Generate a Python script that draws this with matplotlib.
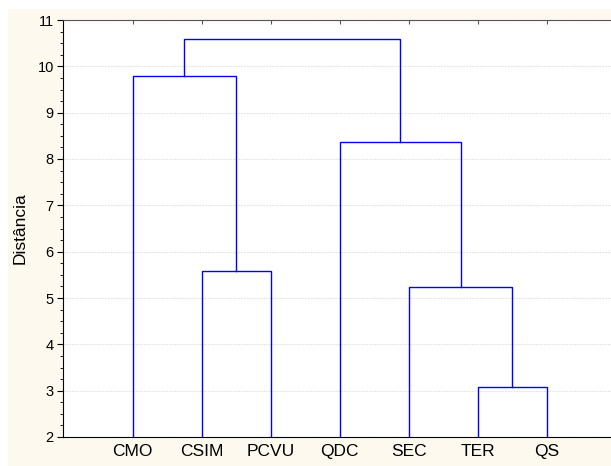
import matplotlib
matplotlib.use('Agg')
import matplotlib.pyplot as plt
from matplotlib.patches import Rectangle

plt.rcParams['font.family'] = ['Liberation Sans', 'DejaVu Sans']

# leaves in plotted order
labels = ['CMO', 'CSIM', 'PCVU', 'QDC', 'SEC', 'TER', 'QS']
# merges: (left node, right node, distance); new nodes numbered from len(labels)
merge_left = [5, 4, 1, 3, 0, 11]
merge_right = [6, 7, 2, 8, 9, 10]
merge_dist = [3.07, 5.24, 5.59, 8.37, 9.80, 10.60]

y_min, y_max = 2, 11

W, H = 611, 466
fig = plt.figure(figsize=(W / 100, H / 100), dpi=100, facecolor='white')
fig.patches.append(Rectangle((8 / W, 0), 1, (H - 9) / H, transform=fig.transFigure,
                             facecolor='#fdf9ee', edgecolor='none', zorder=-10))

left, bottom, top = 63.5 / W, (H - 437) / H, (H - 20) / H
right = 616 / W
ax = fig.add_axes([left, bottom, right - left, top - bottom])
ax.set_facecolor('white')

# node positions
xpos = {i: i + 1 for i in range(len(labels))}
ypos = {i: y_min for i in range(len(labels))}
for k, (a, b, d) in enumerate(zip(merge_left, merge_right, merge_dist)):
    node = len(labels) + k
    ax.plot([xpos[a], xpos[a], xpos[b], xpos[b]], [ypos[a], d, d, ypos[b]],
            color='#0000ff', lw=1.0, solid_joinstyle='miter', zorder=3)
    xpos[node] = (xpos[a] + xpos[b]) / 2
    ypos[node] = d

ax.set_xlim(0, 8)
ax.set_ylim(y_min, y_max)
ax.set_xticks(range(1, len(labels) + 1))
ax.set_xticklabels(labels, fontsize=12.5)
ax.tick_params(axis='x', bottom=False, top=True, direction='in', length=3,
               color='#555555', pad=5)
ax.set_yticks(range(y_min, y_max + 1))
ax.set_yticks([y_min + 0.25 * i for i in range(4 * (y_max - y_min) + 1)], minor=True)
ax.tick_params(axis='y', which='major', direction='out', length=4, labelsize=10.5, pad=3)
ax.tick_params(axis='y', which='minor', direction='out', length=2)
ax.grid(axis='y', color='#e2e2e2', linestyle=(0, (1.5, 1)), linewidth=0.8)
ax.set_axisbelow(True)

ax.spines['right'].set_visible(False)
ax.spines['top'].set_color('#555555')
ax.spines['left'].set_color('black')
ax.spines['bottom'].set_color('black')

ax.set_ylabel('Distância', fontsize=12.5)
ax.yaxis.set_label_coords(-(63.5 - 28) / (right - left) / W, 0.5)

fig.savefig('out.png', dpi=100, facecolor=fig.get_facecolor())
